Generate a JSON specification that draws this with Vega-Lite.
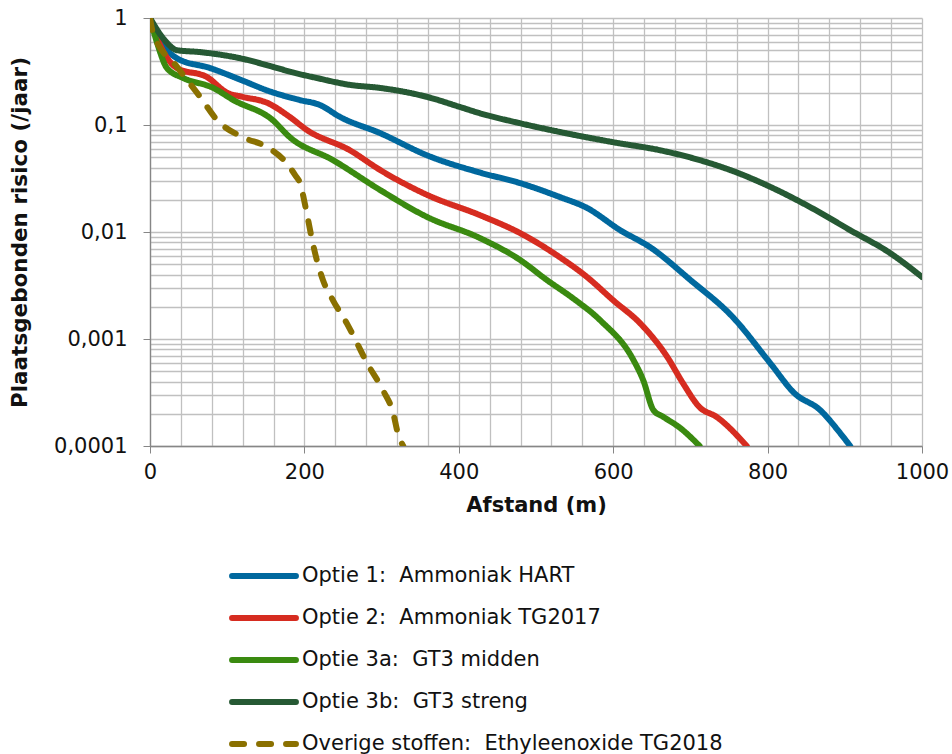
{
  "$schema": "https://vega.github.io/schema/vega-lite/v6.json",
  "width": 772,
  "height": 428,
  "autosize": {"type": "none"},
  "padding": {"left": 150, "top": 18, "right": 30, "bottom": 308},
  "background": "white",
  "config": {
    "font": "DejaVu Sans",
    "view": {"stroke": null},
    "axis": {"labelFont": "DejaVu Sans", "titleFont": "DejaVu Sans", "labelColor": "#111111", "titleColor": "#111111"}
  },
  "data": {
    "values": [
      {"serie": "Optie 1:\u00a0 Ammoniak HART", "afstand": 0, "risico": 1},
      {"serie": "Optie 1:\u00a0 Ammoniak HART", "afstand": 13, "risico": 0.62},
      {"serie": "Optie 1:\u00a0 Ammoniak HART", "afstand": 35, "risico": 0.42},
      {"serie": "Optie 1:\u00a0 Ammoniak HART", "afstand": 78, "risico": 0.34},
      {"serie": "Optie 1:\u00a0 Ammoniak HART", "afstand": 120, "risico": 0.26},
      {"serie": "Optie 1:\u00a0 Ammoniak HART", "afstand": 152, "risico": 0.21},
      {"serie": "Optie 1:\u00a0 Ammoniak HART", "afstand": 194, "risico": 0.171},
      {"serie": "Optie 1:\u00a0 Ammoniak HART", "afstand": 220, "risico": 0.154},
      {"serie": "Optie 1:\u00a0 Ammoniak HART", "afstand": 246, "risico": 0.119},
      {"serie": "Optie 1:\u00a0 Ammoniak HART", "afstand": 298, "risico": 0.084},
      {"serie": "Optie 1:\u00a0 Ammoniak HART", "afstand": 359, "risico": 0.052},
      {"serie": "Optie 1:\u00a0 Ammoniak HART", "afstand": 427, "risico": 0.036},
      {"serie": "Optie 1:\u00a0 Ammoniak HART", "afstand": 479, "risico": 0.0287},
      {"serie": "Optie 1:\u00a0 Ammoniak HART", "afstand": 531, "risico": 0.0212},
      {"serie": "Optie 1:\u00a0 Ammoniak HART", "afstand": 566, "risico": 0.0168},
      {"serie": "Optie 1:\u00a0 Ammoniak HART", "afstand": 609, "risico": 0.0104},
      {"serie": "Optie 1:\u00a0 Ammoniak HART", "afstand": 648, "risico": 0.0072},
      {"serie": "Optie 1:\u00a0 Ammoniak HART", "afstand": 700, "risico": 0.00356},
      {"serie": "Optie 1:\u00a0 Ammoniak HART", "afstand": 755, "risico": 0.0016},
      {"serie": "Optie 1:\u00a0 Ammoniak HART", "afstand": 803, "risico": 0.0006},
      {"serie": "Optie 1:\u00a0 Ammoniak HART", "afstand": 835, "risico": 0.00031},
      {"serie": "Optie 1:\u00a0 Ammoniak HART", "afstand": 868, "risico": 0.000217},
      {"serie": "Optie 1:\u00a0 Ammoniak HART", "afstand": 894, "risico": 0.000132},
      {"serie": "Optie 1:\u00a0 Ammoniak HART", "afstand": 907, "risico": 0.0001},

      {"serie": "Optie 2:\u00a0 Ammoniak TG2017", "afstand": 0, "risico": 1},
      {"serie": "Optie 2:\u00a0 Ammoniak TG2017", "afstand": 13, "risico": 0.56},
      {"serie": "Optie 2:\u00a0 Ammoniak TG2017", "afstand": 35, "risico": 0.34},
      {"serie": "Optie 2:\u00a0 Ammoniak TG2017", "afstand": 74, "risico": 0.28},
      {"serie": "Optie 2:\u00a0 Ammoniak TG2017", "afstand": 100, "risico": 0.2},
      {"serie": "Optie 2:\u00a0 Ammoniak TG2017", "afstand": 120, "risico": 0.183},
      {"serie": "Optie 2:\u00a0 Ammoniak TG2017", "afstand": 152, "risico": 0.161},
      {"serie": "Optie 2:\u00a0 Ammoniak TG2017", "afstand": 181, "risico": 0.119},
      {"serie": "Optie 2:\u00a0 Ammoniak TG2017", "afstand": 203, "risico": 0.09},
      {"serie": "Optie 2:\u00a0 Ammoniak TG2017", "afstand": 259, "risico": 0.058},
      {"serie": "Optie 2:\u00a0 Ammoniak TG2017", "afstand": 298, "risico": 0.038},
      {"serie": "Optie 2:\u00a0 Ammoniak TG2017", "afstand": 359, "risico": 0.0222},
      {"serie": "Optie 2:\u00a0 Ammoniak TG2017", "afstand": 427, "risico": 0.0144},
      {"serie": "Optie 2:\u00a0 Ammoniak TG2017", "afstand": 479, "risico": 0.0098},
      {"serie": "Optie 2:\u00a0 Ammoniak TG2017", "afstand": 531, "risico": 0.0058},
      {"serie": "Optie 2:\u00a0 Ammoniak TG2017", "afstand": 566, "risico": 0.0038},
      {"serie": "Optie 2:\u00a0 Ammoniak TG2017", "afstand": 600, "risico": 0.0023},
      {"serie": "Optie 2:\u00a0 Ammoniak TG2017", "afstand": 635, "risico": 0.0014},
      {"serie": "Optie 2:\u00a0 Ammoniak TG2017", "afstand": 670, "risico": 0.00068},
      {"serie": "Optie 2:\u00a0 Ammoniak TG2017", "afstand": 690, "risico": 0.00039},
      {"serie": "Optie 2:\u00a0 Ammoniak TG2017", "afstand": 712, "risico": 0.00023},
      {"serie": "Optie 2:\u00a0 Ammoniak TG2017", "afstand": 734, "risico": 0.000187},
      {"serie": "Optie 2:\u00a0 Ammoniak TG2017", "afstand": 773, "risico": 0.0001},

      {"serie": "Optie 3a:\u00a0 GT3 midden", "afstand": 0, "risico": 1},
      {"serie": "Optie 3a:\u00a0 GT3 midden", "afstand": 10, "risico": 0.56},
      {"serie": "Optie 3a:\u00a0 GT3 midden", "afstand": 22, "risico": 0.34},
      {"serie": "Optie 3a:\u00a0 GT3 midden", "afstand": 43, "risico": 0.275},
      {"serie": "Optie 3a:\u00a0 GT3 midden", "afstand": 82, "risico": 0.222},
      {"serie": "Optie 3a:\u00a0 GT3 midden", "afstand": 108, "risico": 0.171},
      {"serie": "Optie 3a:\u00a0 GT3 midden", "afstand": 159, "risico": 0.111},
      {"serie": "Optie 3a:\u00a0 GT3 midden", "afstand": 181, "risico": 0.077},
      {"serie": "Optie 3a:\u00a0 GT3 midden", "afstand": 237, "risico": 0.047},
      {"serie": "Optie 3a:\u00a0 GT3 midden", "afstand": 298, "risico": 0.0247},
      {"serie": "Optie 3a:\u00a0 GT3 midden", "afstand": 359, "risico": 0.0138},
      {"serie": "Optie 3a:\u00a0 GT3 midden", "afstand": 427, "risico": 0.0088},
      {"serie": "Optie 3a:\u00a0 GT3 midden", "afstand": 479, "risico": 0.0055},
      {"serie": "Optie 3a:\u00a0 GT3 midden", "afstand": 514, "risico": 0.00356},
      {"serie": "Optie 3a:\u00a0 GT3 midden", "afstand": 548, "risico": 0.0024},
      {"serie": "Optie 3a:\u00a0 GT3 midden", "afstand": 583, "risico": 0.0015},
      {"serie": "Optie 3a:\u00a0 GT3 midden", "afstand": 626, "risico": 0.00064},
      {"serie": "Optie 3a:\u00a0 GT3 midden", "afstand": 639, "risico": 0.00041},
      {"serie": "Optie 3a:\u00a0 GT3 midden", "afstand": 652, "risico": 0.000217},
      {"serie": "Optie 3a:\u00a0 GT3 midden", "afstand": 665, "risico": 0.000187},
      {"serie": "Optie 3a:\u00a0 GT3 midden", "afstand": 687, "risico": 0.000147},
      {"serie": "Optie 3a:\u00a0 GT3 midden", "afstand": 712, "risico": 0.0001},

      {"serie": "Optie 3b:\u00a0 GT3 streng", "afstand": 0, "risico": 1},
      {"serie": "Optie 3b:\u00a0 GT3 streng", "afstand": 19, "risico": 0.62},
      {"serie": "Optie 3b:\u00a0 GT3 streng", "afstand": 35, "risico": 0.5},
      {"serie": "Optie 3b:\u00a0 GT3 streng", "afstand": 65, "risico": 0.48},
      {"serie": "Optie 3b:\u00a0 GT3 streng", "afstand": 117, "risico": 0.42},
      {"serie": "Optie 3b:\u00a0 GT3 streng", "afstand": 159, "risico": 0.35},
      {"serie": "Optie 3b:\u00a0 GT3 streng", "afstand": 185, "risico": 0.31},
      {"serie": "Optie 3b:\u00a0 GT3 streng", "afstand": 216, "risico": 0.275},
      {"serie": "Optie 3b:\u00a0 GT3 streng", "afstand": 259, "risico": 0.237},
      {"serie": "Optie 3b:\u00a0 GT3 streng", "afstand": 298, "risico": 0.222},
      {"serie": "Optie 3b:\u00a0 GT3 streng", "afstand": 359, "risico": 0.183},
      {"serie": "Optie 3b:\u00a0 GT3 streng", "afstand": 402, "risico": 0.147},
      {"serie": "Optie 3b:\u00a0 GT3 streng", "afstand": 427, "risico": 0.129},
      {"serie": "Optie 3b:\u00a0 GT3 streng", "afstand": 479, "risico": 0.104},
      {"serie": "Optie 3b:\u00a0 GT3 streng", "afstand": 531, "risico": 0.086},
      {"serie": "Optie 3b:\u00a0 GT3 streng", "afstand": 600, "risico": 0.069},
      {"serie": "Optie 3b:\u00a0 GT3 streng", "afstand": 661, "risico": 0.058},
      {"serie": "Optie 3b:\u00a0 GT3 streng", "afstand": 703, "risico": 0.049},
      {"serie": "Optie 3b:\u00a0 GT3 streng", "afstand": 760, "risico": 0.036},
      {"serie": "Optie 3b:\u00a0 GT3 streng", "afstand": 812, "risico": 0.0247},
      {"serie": "Optie 3b:\u00a0 GT3 streng", "afstand": 855, "risico": 0.0171},
      {"serie": "Optie 3b:\u00a0 GT3 streng", "afstand": 907, "risico": 0.0104},
      {"serie": "Optie 3b:\u00a0 GT3 streng", "afstand": 958, "risico": 0.0064},
      {"serie": "Optie 3b:\u00a0 GT3 streng", "afstand": 1000, "risico": 0.0038},

      {"serie": "Overige stoffen:\u00a0 Ethyleenoxide TG2018", "afstand": 0, "risico": 1},
      {"serie": "Overige stoffen:\u00a0 Ethyleenoxide TG2018", "afstand": 4, "risico": 0.72},
      {"serie": "Overige stoffen:\u00a0 Ethyleenoxide TG2018", "afstand": 35, "risico": 0.35},
      {"serie": "Overige stoffen:\u00a0 Ethyleenoxide TG2018", "afstand": 65, "risico": 0.183},
      {"serie": "Overige stoffen:\u00a0 Ethyleenoxide TG2018", "afstand": 87, "risico": 0.111},
      {"serie": "Overige stoffen:\u00a0 Ethyleenoxide TG2018", "afstand": 120, "risico": 0.077},
      {"serie": "Overige stoffen:\u00a0 Ethyleenoxide TG2018", "afstand": 152, "risico": 0.062},
      {"serie": "Overige stoffen:\u00a0 Ethyleenoxide TG2018", "afstand": 177, "risico": 0.044},
      {"serie": "Overige stoffen:\u00a0 Ethyleenoxide TG2018", "afstand": 188, "risico": 0.034},
      {"serie": "Overige stoffen:\u00a0 Ethyleenoxide TG2018", "afstand": 194, "risico": 0.029},
      {"serie": "Overige stoffen:\u00a0 Ethyleenoxide TG2018", "afstand": 203, "risico": 0.0151},
      {"serie": "Overige stoffen:\u00a0 Ethyleenoxide TG2018", "afstand": 210, "risico": 0.0084},
      {"serie": "Overige stoffen:\u00a0 Ethyleenoxide TG2018", "afstand": 216, "risico": 0.0055},
      {"serie": "Overige stoffen:\u00a0 Ethyleenoxide TG2018", "afstand": 224, "risico": 0.00356},
      {"serie": "Overige stoffen:\u00a0 Ethyleenoxide TG2018", "afstand": 237, "risico": 0.0023},
      {"serie": "Overige stoffen:\u00a0 Ethyleenoxide TG2018", "afstand": 255, "risico": 0.0014},
      {"serie": "Overige stoffen:\u00a0 Ethyleenoxide TG2018", "afstand": 268, "risico": 0.00092},
      {"serie": "Overige stoffen:\u00a0 Ethyleenoxide TG2018", "afstand": 281, "risico": 0.0006},
      {"serie": "Overige stoffen:\u00a0 Ethyleenoxide TG2018", "afstand": 302, "risico": 0.00033},
      {"serie": "Overige stoffen:\u00a0 Ethyleenoxide TG2018", "afstand": 315, "risico": 0.000203},
      {"serie": "Overige stoffen:\u00a0 Ethyleenoxide TG2018", "afstand": 321, "risico": 0.000132},
      {"serie": "Overige stoffen:\u00a0 Ethyleenoxide TG2018", "afstand": 328, "risico": 0.0001}
    ]
  },
  "mark": {"type": "line", "strokeWidth": 6, "strokeCap": "round", "strokeJoin": "round", "interpolate": "monotone", "clip": true},
  "encoding": {
    "x": {
      "field": "afstand", "type": "quantitative",
      "scale": {"domain": [0, 1000], "nice": false, "zero": false},
      "axis": {
        "title": "Afstand (m)",
        "format": "d",
        "values": [0,40,80,120,160,200,240,280,320,360,400,440,480,520,560,600,640,680,720,760,800,840,880,920,960,1000],
        "labelExpr": "datum.value % 200 == 0 ? datum.label : ''",
        "labelFontSize": 21, "labelPadding": 8, "labelFlush": false, "labelOverlap": false,
        "tickSize": 7, "tickColor": "#868686",
        "tickOpacity": {"condition": {"test": "datum.value % 200 == 0", "value": 1}, "value": 0},
        "domainColor": "#868686", "domainWidth": 1.3,
        "grid": true, "gridColor": "#c0c0c0", "gridWidth": 1.3,
        "titleFontSize": 21, "titleFontWeight": "bold", "titlePadding": 12
      }
    },
    "y": {
      "field": "risico", "type": "quantitative",
      "scale": {"type": "log", "domain": [0.0001, 1], "nice": false},
      "axis": {
        "title": "Plaatsgebonden risico (/jaar)",
        "values": [0.0001,0.0002,0.0003,0.0004,0.0005,0.0006,0.0007,0.0008,0.0009,0.001,0.002,0.003,0.004,0.005,0.006,0.007,0.008,0.009,0.01,0.02,0.03,0.04,0.05,0.06,0.07,0.08,0.09,0.1,0.2,0.3,0.4,0.5,0.6,0.7,0.8,0.9,1],
        "labelExpr": "abs(log(datum.value)/LN10 - round(log(datum.value)/LN10)) < 0.000001 ? replace(toString(datum.value), '.', ',') : ''",
        "labelFontSize": 21, "labelPadding": 16, "labelFlush": false, "labelOverlap": false,
        "tickSize": 7, "tickColor": "#868686",
        "tickOpacity": {"condition": {"test": "abs(log(datum.value)/LN10 - round(log(datum.value)/LN10)) < 0.000001", "value": 1}, "value": 0},
        "domainColor": "#868686", "domainWidth": 1.3,
        "grid": true, "gridColor": "#c0c0c0", "gridWidth": 1.3,
        "titleFontSize": 21.5, "titleFontWeight": "bold", "titlePadding": 22
      }
    },
    "color": {
      "field": "serie", "type": "nominal",
      "scale": {
        "domain": ["Optie 1:\u00a0 Ammoniak HART", "Optie 2:\u00a0 Ammoniak TG2017", "Optie 3a:\u00a0 GT3 midden", "Optie 3b:\u00a0 GT3 streng", "Overige stoffen:\u00a0 Ethyleenoxide TG2018"],
        "range": ["#00689e", "#d62c20", "#3a8a10", "#265934", "#8a7000"]
      },
      "legend": {
        "title": null, "orient": "none", "legendX": 84, "legendY": 528,
        "symbolType": "M-1.19,0H1.19", "symbolSize": 2884, "symbolStrokeWidth": 6,
        "labelFontSize": 21, "labelFont": "DejaVu Sans", "labelColor": "#111111", "labelOffset": 8,
        "rowPadding": 0, "padding": 0, "labelLimit": 600,
        "encode": {"symbols": {"update": {"strokeCap": {"value": "round"}}}}
      }
    },
    "strokeDash": {
      "field": "serie", "type": "nominal",
      "scale": {
        "domain": ["Optie 1:\u00a0 Ammoniak HART", "Optie 2:\u00a0 Ammoniak TG2017", "Optie 3a:\u00a0 GT3 midden", "Optie 3b:\u00a0 GT3 streng", "Overige stoffen:\u00a0 Ethyleenoxide TG2018"],
        "range": [[1, 0], [1, 0], [1, 0], [1, 0], [12, 15]]
      },
      "legend": null
    }
  }
}
